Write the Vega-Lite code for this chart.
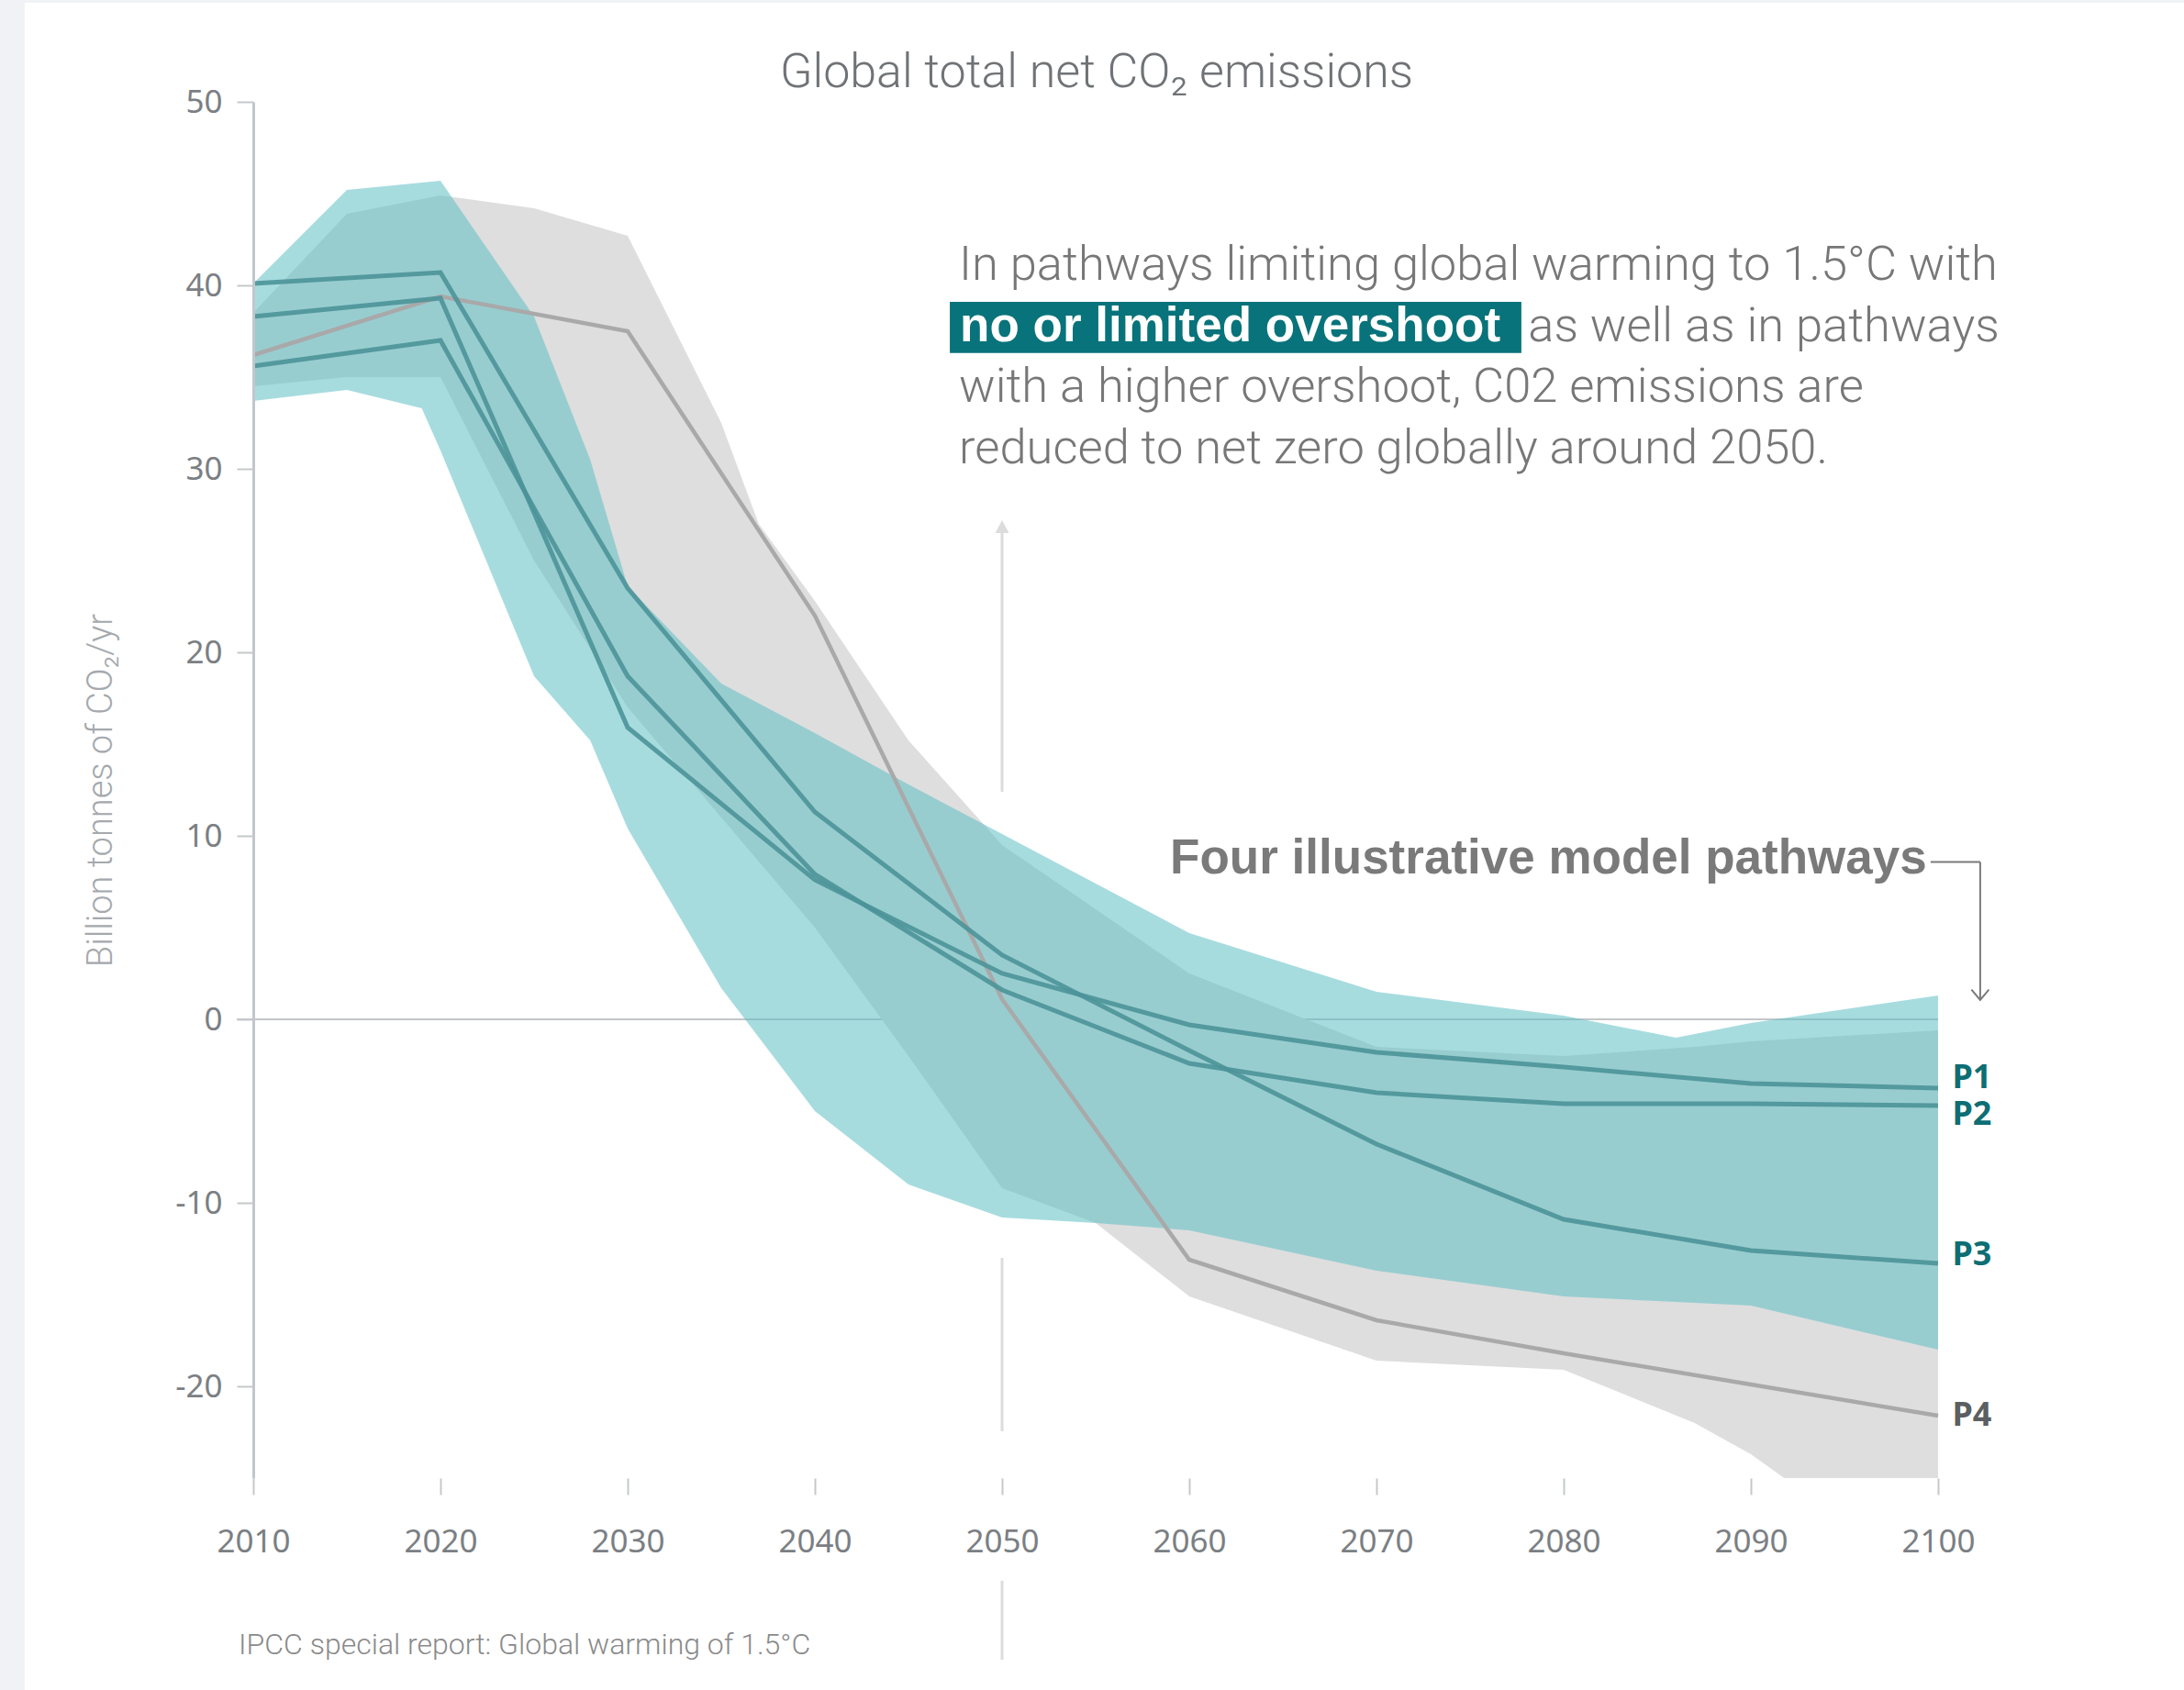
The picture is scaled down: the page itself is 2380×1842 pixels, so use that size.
{
  "$schema": "https://vega.github.io/schema/vega-lite/v6.json",
  "width": 1836,
  "height": 1500,
  "autosize": {"type": "none"},
  "padding": {"left": 276, "top": 111, "right": 268, "bottom": 231},
  "background": "#f0f2f5",
  "data": {"values": [{}]},
  "config": {
    "view": {"stroke": null},
    "axis": {
      "labelFont": "Noto Sans",
      "labelFontSize": 35,
      "labelColor": "#7b7f84",
      "labelFlush": false,
      "tickColor": "#c5c8cb",
      "tickWidth": 2,
      "tickSize": 18,
      "grid": false
    }
  },
  "datasets": {
    "bands": [
      {"band": "higher", "year": 2010, "lo": 34.5, "hi": 38.5},
      {"band": "higher", "year": 2015, "lo": 35.0, "hi": 43.9},
      {"band": "higher", "year": 2020, "lo": 35.0, "hi": 44.9},
      {"band": "higher", "year": 2025, "lo": 25.0, "hi": 44.2},
      {"band": "higher", "year": 2030, "lo": 17.0, "hi": 42.7},
      {"band": "higher", "year": 2035, "lo": 11.0, "hi": 32.5},
      {"band": "higher", "year": 2037, "lo": 8.6, "hi": 27.0},
      {"band": "higher", "year": 2040, "lo": 5.0, "hi": 22.8},
      {"band": "higher", "year": 2045, "lo": -2.0, "hi": 15.2},
      {"band": "higher", "year": 2050, "lo": -9.2, "hi": 9.5},
      {"band": "higher", "year": 2055, "lo": -11.1, "hi": 6.0},
      {"band": "higher", "year": 2060, "lo": -15.1, "hi": 2.5},
      {"band": "higher", "year": 2070, "lo": -18.6, "hi": -1.5},
      {"band": "higher", "year": 2080, "lo": -19.1, "hi": -2.0},
      {"band": "higher", "year": 2087, "lo": -22.0, "hi": -1.5},
      {"band": "higher", "year": 2090, "lo": -23.7, "hi": -1.2},
      {"band": "higher", "year": 2100, "lo": -31.0, "hi": -0.6},
      {"band": "limited", "year": 2010, "lo": 33.7, "hi": 40.1},
      {"band": "limited", "year": 2015, "lo": 34.3, "hi": 45.2},
      {"band": "limited", "year": 2019, "lo": 33.3, "hi": 45.6},
      {"band": "limited", "year": 2020, "lo": 31.0, "hi": 45.7},
      {"band": "limited", "year": 2025, "lo": 18.7, "hi": 38.3},
      {"band": "limited", "year": 2028, "lo": 15.2, "hi": 30.5},
      {"band": "limited", "year": 2030, "lo": 10.4, "hi": 23.6},
      {"band": "limited", "year": 2035, "lo": 1.7, "hi": 18.3},
      {"band": "limited", "year": 2040, "lo": -5.0, "hi": 15.6},
      {"band": "limited", "year": 2045, "lo": -9.0, "hi": 12.8},
      {"band": "limited", "year": 2050, "lo": -10.8, "hi": 10.1},
      {"band": "limited", "year": 2055, "lo": -11.1, "hi": 7.4},
      {"band": "limited", "year": 2060, "lo": -11.5, "hi": 4.7},
      {"band": "limited", "year": 2070, "lo": -13.7, "hi": 1.5},
      {"band": "limited", "year": 2080, "lo": -15.1, "hi": 0.2},
      {"band": "limited", "year": 2086, "lo": -15.4, "hi": -1.0},
      {"band": "limited", "year": 2090, "lo": -15.6, "hi": -0.2},
      {"band": "limited", "year": 2100, "lo": -18.0, "hi": 1.3}
    ],
    "paths": [
      {"id": "P1", "year": 2010, "v": 38.3}, {"id": "P1", "year": 2020, "v": 39.3},
      {"id": "P1", "year": 2030, "v": 15.9}, {"id": "P1", "year": 2040, "v": 7.6},
      {"id": "P1", "year": 2050, "v": 2.5}, {"id": "P1", "year": 2060, "v": -0.3},
      {"id": "P1", "year": 2070, "v": -1.8}, {"id": "P1", "year": 2080, "v": -2.6},
      {"id": "P1", "year": 2090, "v": -3.5}, {"id": "P1", "year": 2100, "v": -3.75},
      {"id": "P2", "year": 2010, "v": 35.6}, {"id": "P2", "year": 2020, "v": 37.0},
      {"id": "P2", "year": 2030, "v": 18.7}, {"id": "P2", "year": 2040, "v": 7.9},
      {"id": "P2", "year": 2050, "v": 1.6}, {"id": "P2", "year": 2060, "v": -2.4},
      {"id": "P2", "year": 2070, "v": -4.0}, {"id": "P2", "year": 2080, "v": -4.6},
      {"id": "P2", "year": 2090, "v": -4.6}, {"id": "P2", "year": 2100, "v": -4.7},
      {"id": "P3", "year": 2010, "v": 40.1}, {"id": "P3", "year": 2020, "v": 40.7},
      {"id": "P3", "year": 2030, "v": 23.5}, {"id": "P3", "year": 2040, "v": 11.3},
      {"id": "P3", "year": 2050, "v": 3.5}, {"id": "P3", "year": 2060, "v": -1.7},
      {"id": "P3", "year": 2070, "v": -6.8}, {"id": "P3", "year": 2080, "v": -10.9},
      {"id": "P3", "year": 2090, "v": -12.6}, {"id": "P3", "year": 2100, "v": -13.3},
      {"id": "P4", "year": 2010, "v": 36.2}, {"id": "P4", "year": 2020, "v": 39.4},
      {"id": "P4", "year": 2030, "v": 37.5}, {"id": "P4", "year": 2040, "v": 22.0},
      {"id": "P4", "year": 2050, "v": 1.1}, {"id": "P4", "year": 2060, "v": -13.1},
      {"id": "P4", "year": 2070, "v": -16.4}, {"id": "P4", "year": 2080, "v": -18.2},
      {"id": "P4", "year": 2090, "v": -19.9}, {"id": "P4", "year": 2100, "v": -21.6}
    ]
  },
  "layer": [
    {
      "mark": {"type": "rect", "fill": "#ffffff"},
      "encoding": {"x": {"datum": 1997.79}, "x2": {"datum": 2113.14}, "y": {"datum": 55.4}, "y2": {"datum": -36.6}}
    },
    {
      "mark": {"type": "rule", "stroke": "#c3c6c9", "strokeWidth": 2},
      "encoding": {"x": {"datum": 2009.12}, "x2": {"datum": 2100}, "y": {"datum": 0}}
    },
    {
      "mark": {"type": "rule", "stroke": "#dcdcdc", "strokeWidth": 3},
      "encoding": {"x": {"datum": 2050}, "y": {"datum": 12.4}, "y2": {"datum": 26.6}}
    },
    {
      "mark": {"type": "rule", "stroke": "#dcdcdc", "strokeWidth": 3},
      "encoding": {"x": {"datum": 2050}, "y": {"datum": -13.0}, "y2": {"datum": -22.45}}
    },
    {
      "mark": {"type": "rule", "stroke": "#dcdcdc", "strokeWidth": 3},
      "encoding": {"x": {"datum": 2050}, "y": {"datum": -30.6}, "y2": {"datum": -34.9}}
    },
    {
      "mark": {"type": "point", "shape": "M-1,1.87L0,0L1,1.87Z", "filled": true, "fill": "#dcdcdc", "size": 225, "opacity": 1},
      "encoding": {"x": {"datum": 2050}, "y": {"datum": 27.2}}
    },
    {
      "data": {"name": "bands"},
      "transform": [{"filter": "datum.band == 'higher'"}],
      "mark": {"type": "area", "clip": true, "fill": "#dedede", "opacity": 1},
      "encoding": {
        "x": {
          "field": "year", "type": "quantitative",
          "scale": {"domain": [2010, 2100], "nice": false, "zero": false},
          "axis": {
            "values": [2010, 2020, 2030, 2040, 2050, 2060, 2070, 2080, 2090, 2100],
            "format": "d", "domain": false, "title": null, "labelPadding": 34,
            "zindex": 2
          }
        },
        "y": {
          "field": "hi", "type": "quantitative",
          "scale": {"domain": [-25, 50], "nice": false, "zero": false},
          "axis": {
            "values": [-20, -10, 0, 10, 20, 30, 40, 50],
            "labelExpr": "datum.value + ''",
            "domain": true, "domainColor": "#c3c6ca", "domainWidth": 3,
            "labelPadding": 16,
            "title": "Billion tonnes of CO₂/yr",
            "titleFont": "Roboto", "titleFontWeight": 300, "titleFontSize": 38,
            "titleColor": "#a5a9ad", "titlePadding": 61,
            "zindex": 2
          }
        },
        "y2": {"field": "lo"}
      }
    },
    {
      "data": {"name": "bands"},
      "transform": [{"filter": "datum.band == 'limited'"}],
      "mark": {"type": "area", "clip": true, "fill": "#5fbfc5", "opacity": 0.55},
      "encoding": {
        "x": {"field": "year", "type": "quantitative"},
        "y": {"field": "hi", "type": "quantitative"},
        "y2": {"field": "lo"}
      }
    },
    {
      "data": {"name": "paths"},
      "transform": [{"filter": "datum.id == 'P4'"}],
      "mark": {"type": "line", "stroke": "#a9a9a9", "strokeWidth": 4.5},
      "encoding": {
        "x": {"field": "year", "type": "quantitative"},
        "y": {"field": "v", "type": "quantitative"},
        "detail": {"field": "id"}
      }
    },
    {
      "data": {"name": "paths"},
      "transform": [{"filter": "datum.id != 'P4'"}],
      "mark": {"type": "line", "stroke": "#4b9398", "strokeWidth": 5, "opacity": 0.9},
      "encoding": {
        "x": {"field": "year", "type": "quantitative"},
        "y": {"field": "v", "type": "quantitative"},
        "detail": {"field": "id"}
      }
    },
    {
      "mark": {"type": "text", "text": "P1", "font": "Noto Sans", "fontWeight": "bold", "fontSize": 36, "color": "#0d6e73", "align": "left", "baseline": "alphabetic"},
      "encoding": {"x": {"datum": 2100.76}, "y": {"datum": -3.73}}
    },
    {
      "mark": {"type": "text", "text": "P2", "font": "Noto Sans", "fontWeight": "bold", "fontSize": 36, "color": "#0d6e73", "align": "left", "baseline": "alphabetic"},
      "encoding": {"x": {"datum": 2100.76}, "y": {"datum": -5.74}}
    },
    {
      "mark": {"type": "text", "text": "P3", "font": "Noto Sans", "fontWeight": "bold", "fontSize": 36, "color": "#0d6e73", "align": "left", "baseline": "alphabetic"},
      "encoding": {"x": {"datum": 2100.76}, "y": {"datum": -13.42}}
    },
    {
      "mark": {"type": "text", "text": "P4", "font": "Noto Sans", "fontWeight": "bold", "fontSize": 36, "color": "#5b5f61", "align": "left", "baseline": "alphabetic"},
      "encoding": {"x": {"datum": 2100.76}, "y": {"datum": -22.13}}
    },
    {
      "mark": {"type": "rect", "fill": "#08737a"},
      "encoding": {"x": {"datum": 2047.21}, "x2": {"datum": 2077.74}, "y": {"datum": 39.1}, "y2": {"datum": 36.315}}
    },
    {
      "mark": {"type": "text", "text": "no or limited overshoot", "font": "Liberation Sans", "fontWeight": "bold", "fontSize": 53, "color": "#ffffff", "align": "left", "baseline": "alphabetic"},
      "encoding": {"x": {"datum": 2047.75}, "y": {"datum": 36.965}}
    },
    {
      "mark": {"type": "text", "text": "In pathways limiting global warming to 1.5°C with", "font": "Roboto", "fontWeight": 300, "fontSize": 52.5, "color": "#777777", "align": "left", "baseline": "alphabetic"},
      "encoding": {"x": {"datum": 2047.7}, "y": {"datum": 40.3}}
    },
    {
      "mark": {"type": "text", "text": "as well as in pathways", "font": "Roboto", "fontWeight": 300, "fontSize": 52.5, "color": "#777777", "align": "left", "baseline": "alphabetic"},
      "encoding": {"x": {"datum": 2078.1}, "y": {"datum": 36.965}}
    },
    {
      "mark": {"type": "text", "text": "with a higher overshoot, C02 emissions are", "font": "Roboto", "fontWeight": 300, "fontSize": 52.5, "color": "#777777", "align": "left", "baseline": "alphabetic"},
      "encoding": {"x": {"datum": 2047.7}, "y": {"datum": 33.635}}
    },
    {
      "mark": {"type": "text", "text": "reduced to net zero globally around 2050.", "font": "Roboto", "fontWeight": 300, "fontSize": 52.5, "color": "#777777", "align": "left", "baseline": "alphabetic"},
      "encoding": {"x": {"datum": 2047.7}, "y": {"datum": 30.3}}
    },
    {
      "mark": {"type": "text", "text": "Four illustrative model pathways", "font": "Liberation Sans", "fontWeight": "bold", "fontSize": 53, "color": "#7a7a7a", "align": "right", "baseline": "alphabetic"},
      "encoding": {"x": {"datum": 2099.4}, "y": {"datum": 7.95}}
    },
    {
      "mark": {"type": "rule", "stroke": "#7a7a7a", "strokeWidth": 2},
      "encoding": {"x": {"datum": 2099.6}, "x2": {"datum": 2102.25}, "y": {"datum": 8.575}}
    },
    {
      "mark": {"type": "rule", "stroke": "#7a7a7a", "strokeWidth": 2},
      "encoding": {"x": {"datum": 2102.25}, "y": {"datum": 8.575}, "y2": {"datum": 1.05}}
    },
    {
      "mark": {"type": "point", "shape": "M-1,-1.2L0,0L1,-1.2", "filled": false, "stroke": "#7a7a7a", "strokeWidth": 2, "size": 361, "opacity": 1},
      "encoding": {"x": {"datum": 2102.25}, "y": {"datum": 1.05}}
    },
    {
      "mark": {"type": "text", "text": "Global total net CO₂ emissions", "font": "Roboto", "fontWeight": 300, "fontSize": 52, "color": "#707376", "align": "center", "baseline": "alphabetic"},
      "encoding": {"x": {"datum": 2055.05}, "y": {"datum": 50.8}}
    },
    {
      "mark": {"type": "text", "text": "IPCC special report: Global warming of 1.5°C", "font": "Roboto", "fontWeight": 300, "fontSize": 32, "color": "#8a8a8a", "align": "left", "baseline": "alphabetic"},
      "encoding": {"x": {"datum": 2009.22}, "y": {"datum": -34.615}}
    }
  ]
}
